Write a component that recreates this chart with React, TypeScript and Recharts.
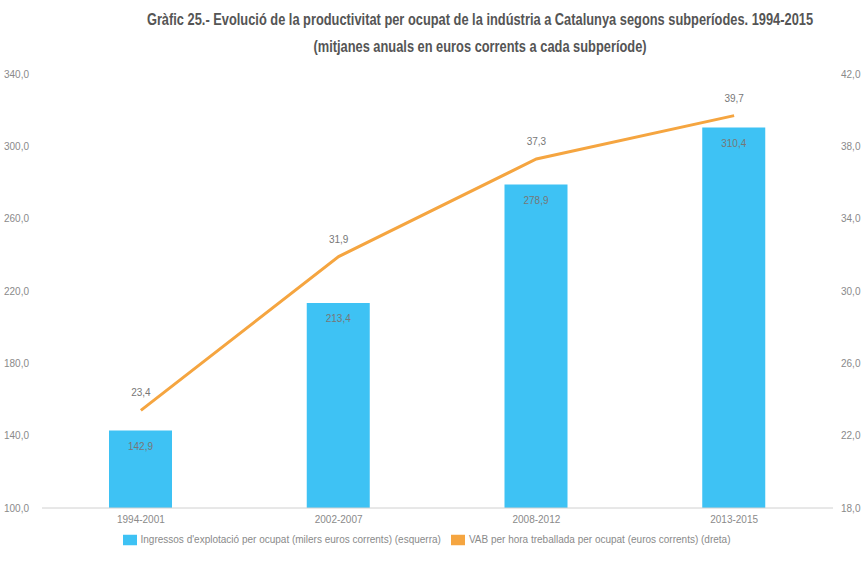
import { ComposedChart, Bar, Line, XAxis, YAxis, Legend, LabelList } from "recharts";

const periods = ["1994-2001", "2002-2007", "2008-2012", "2013-2015"];
const ingressos = [142.9, 213.4, 278.9, 310.4];
const vab = [23.4, 31.9, 37.3, 39.7];
const leftTicks = [100, 140, 180, 220, 260, 300, 340];
const rightTicks = [18, 22, 26, 30, 34, 38, 42];

const data = periods.map((p, i) => ({ period: p, ingressos: ingressos[i], vab: vab[i] }));

const fmt = (v: any) => Number(v).toFixed(1).replace(".", ",");
const font = "'Liberation Sans', Arial, sans-serif";
const grey = "#8a8a8a";

const titleLine = {
  position: "absolute" as const,
  left: 480 - 600,
  width: 1200,
  textAlign: "center" as const,
  whiteSpace: "nowrap" as const,
  fontSize: 17,
  fontWeight: "bold" as const,
  color: "#555",
  lineHeight: "20px",
  transform: "scaleX(0.755)",
  transformOrigin: "center",
};

export default function App() {
  return (
    <div style={{ position: "absolute", left: 0, top: 0, width: 863, height: 563, background: "#fff", fontFamily: font, overflow: "hidden" }}>
      <div style={{ ...titleLine, top: 10 }}>
        Gràfic 25.- Evolució de la productivitat per ocupat de la indústria a Catalunya segons subperíodes. 1994-2015
      </div>
      <div style={{ ...titleLine, top: 37 }}>(mitjanes anuals en euros corrents a cada subperíode)</div>
      <ComposedChart width={863} height={563} data={data} margin={{ top: 74, right: 0, bottom: 0, left: 0 }}>
        <XAxis
          dataKey="period"
          height={25}
          stroke="#d0d0d0"
          tickLine={false}
          tick={{ fill: grey, fontSize: 10, fontFamily: font }}
        />
        <YAxis
          yAxisId="left"
          domain={[100, 340]}
          ticks={leftTicks}
          width={42}
          axisLine={false}
          tickLine={false}
          tickFormatter={fmt}
          tick={{ fill: grey, fontSize: 10, fontFamily: font, textAnchor: "start", dx: -30 }}
        />
        <YAxis
          yAxisId="right"
          orientation="right"
          domain={[18, 42]}
          ticks={rightTicks}
          width={30}
          axisLine={false}
          tickLine={false}
          tickFormatter={fmt}
          tick={{ fill: grey, fontSize: 10, fontFamily: font }}
        />
        <Legend
          height={30}
          verticalAlign="bottom"
          iconType="rect"
          iconSize={14}
          wrapperStyle={{ fontSize: 10, fontFamily: font, color: grey }}
          formatter={(value: any) => <span style={{ color: grey }}>{value}</span>}
        />
        <Bar
          yAxisId="left"
          dataKey="ingressos"
          name="Ingressos d'explotació per ocupat (milers euros corrents) (esquerra)"
          fill="#3ec2f4"
          barSize={63}
          isAnimationActive={false}
        >
          <LabelList dataKey="ingressos" position="insideTop" offset={12} formatter={fmt} style={{ fill: "#777", fontSize: 10, fontFamily: font }} />
        </Bar>
        <Line
          yAxisId="right"
          dataKey="vab"
          name="VAB per hora treballada per ocupat (euros corrents) (dreta)"
          stroke="#f5a540"
          strokeWidth={3}
          dot={false}
          legendType="line"
          isAnimationActive={false}
        >
          <LabelList dataKey="vab" position="top" offset={14} formatter={fmt} style={{ fill: "#777", fontSize: 10, fontFamily: font }} />
        </Line>
      </ComposedChart>
    </div>
  );
}
